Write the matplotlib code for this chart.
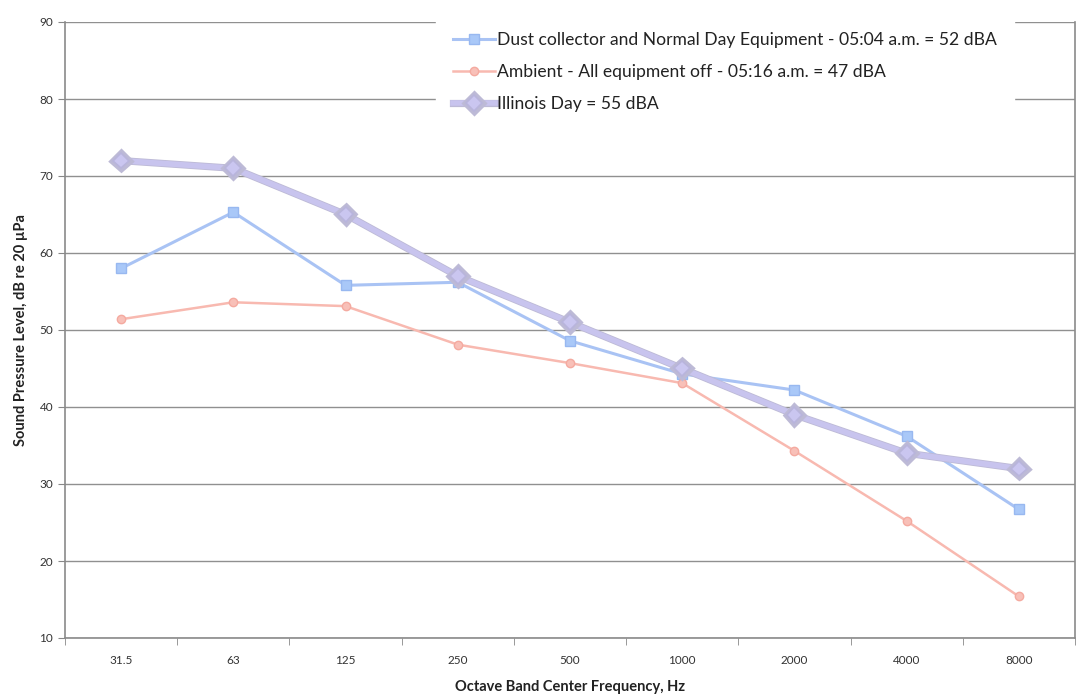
import matplotlib
matplotlib.use("Agg")
import matplotlib.pyplot as plt
import matplotlib.patheffects as pe

plt.rcParams['font.family'] = ['Lato', 'DejaVu Sans']

bands = ["31.5", "63", "125", "250", "500", "1000", "2000", "4000", "8000"]
dust_collector = [58.0, 65.3, 55.8, 56.2, 48.6, 44.3, 42.2, 36.2, 26.7]
ambient = [51.4, 53.6, 53.1, 48.1, 45.7, 43.1, 34.3, 25.2, 15.4]
illinois_day = [72, 71, 65, 57, 51, 45, 39, 34, 32]

labels = [
    "Dust collector and Normal Day Equipment - 05:04 a.m. = 52 dBA",
    "Ambient - All equipment off - 05:16 a.m. = 47 dBA",
    "Illinois Day = 55 dBA",
]

fig = plt.figure(figsize=(10.8, 6.98), dpi=100)
ax = fig.add_axes([65 / 1080, 1 - 638 / 698, (1075 - 65) / 1080, (638 - 22) / 698])

x = list(range(len(bands)))

ax.plot(x, dust_collector, color="#a9c3f4", lw=2.2, marker="s", ms=7,
        mfc="#a9c8f8", mec="#98b8f0", label=labels[0], zorder=3)
ax.plot(x, ambient, color="#f8b9b0", lw=1.8, marker="o", ms=6,
        mfc="#f8c0b8", mec="#f4aaa0", label=labels[1], zorder=3)
ax.plot(x, illinois_day, color="#c8c4ee", lw=4.0, marker="D", ms=8,
        mfc="#cac6f0", mec="#b8b4dc", mew=1.2, label=labels[2], zorder=4,
        path_effects=[pe.Stroke(linewidth=5.2, foreground="#bdbad6"), pe.Normal()])

ax.set_xlim(-0.5, len(bands) - 0.5)
ax.set_ylim(10, 90)
ax.set_yticks(range(10, 91, 10))
ax.set_xticks(x)
ax.set_xticklabels(bands)
ax.set_xticks([i - 0.5 for i in range(len(bands) + 1)], minor=True)
ax.tick_params(axis="x", which="major", length=0, pad=12, labelsize=8.5, colors="#333333")
ax.tick_params(axis="x", which="minor", length=5, color="#888888")
ax.tick_params(axis="y", length=5, color="#888888", labelsize=8.5, labelcolor="#333333")

ax.grid(axis="y", color="#909090", lw=1.0, zorder=0)
ax.set_axisbelow(True)
for side in ["left", "bottom", "right"]:
    ax.spines[side].set_color("#8a8a8a")
    ax.spines[side].set_linewidth(1.2)
ax.spines["top"].set_visible(False)

ax.set_xlabel("Octave Band Center Frequency, Hz", fontsize=10.5, fontweight="bold",
              color="#222222", labelpad=10)
ax.set_ylabel("Sound Pressure Level, dB re 20 µPa", fontsize=10.5, fontweight="bold",
              color="#222222", labelpad=8)

leg = ax.legend(loc="upper left", bbox_to_anchor=(0.367, 1.0114), frameon=True,
                fontsize=12.6, handlelength=2.4, handletextpad=0.1,
                labelspacing=0.9, borderaxespad=0.0, borderpad=1.0)
leg.get_frame().set_facecolor("white")
leg.get_frame().set_edgecolor("white")
leg.get_frame().set_alpha(1.0)
leg.set_zorder(10)
for t in leg.get_texts():
    t.set_color("#222222")

fig.savefig("out.png", dpi=100)
